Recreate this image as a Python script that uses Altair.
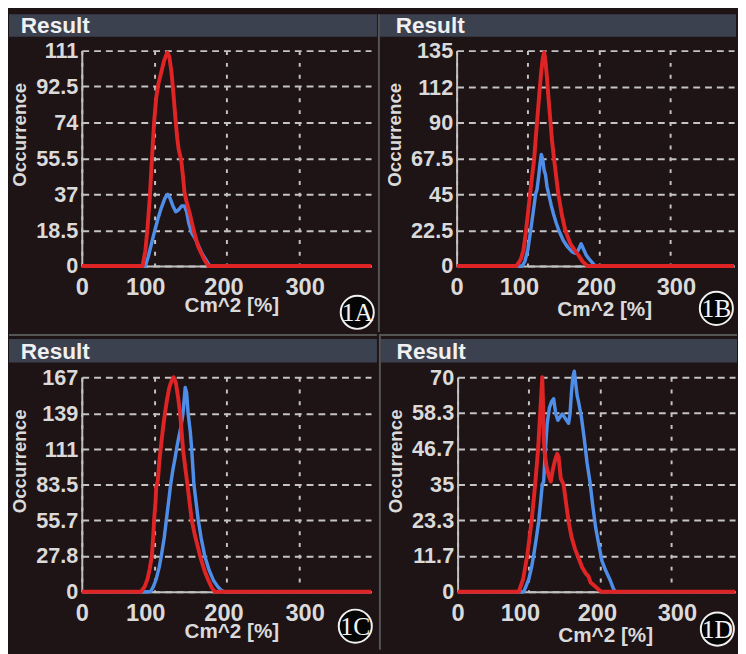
import altair as alt
import pandas as pd

# ---------------- data ----------------
# Panel 1A
a_red_x = [0, 84, 88, 91, 94, 97, 100, 103, 106, 110, 114, 118, 121, 124, 126, 128, 130, 132, 134, 136, 138, 140, 142, 145, 150, 155, 161, 166, 170, 175, 400]
a_red_y = [0, 0, 8, 20, 35, 55, 74, 87, 94, 100, 106, 110, 108, 100, 92, 83, 74, 66, 60, 57, 53, 46, 38, 33, 26, 18, 10, 6, 3, 0, 0]
a_blue_x = [0, 88, 92, 96, 100, 105, 110, 115, 119, 122, 126, 130, 134, 138, 142, 145, 148, 152, 157, 162, 167, 172, 177, 400]
a_blue_y = [0, 0, 5, 11, 17, 24, 30, 35, 37, 35, 31, 28, 29, 31, 31, 28, 22, 17, 14, 10, 6, 3, 0, 0]
a_yticks = [0, 18.5, 37, 55.5, 74, 92.5, 111]

# Panel 1B
b_red_x = [0, 84, 90, 94, 97, 100, 103, 106, 109, 111, 113, 115, 117, 119, 121, 123, 125, 127, 129, 132, 134, 137, 140, 143, 148, 153, 160, 166, 171, 177, 184, 390]
b_red_y = [0, 0, 4, 10, 20, 32, 44, 56, 67, 79, 90, 101, 112, 122, 130, 134, 128, 118, 106, 90, 79, 67, 56, 45, 32, 22, 14, 10, 7, 3, 0, 0]
b_blue_x = [0, 92, 96, 100, 104, 108, 111, 113, 115, 117, 119, 121, 123, 125, 127, 130, 133, 136, 140, 144, 150, 156, 162, 167, 171, 175, 178, 182, 187, 191, 195, 390]
b_blue_y = [0, 0, 3, 10, 22, 35, 45, 48, 55, 63, 70, 67, 60, 57, 50, 44, 38, 33, 27, 22, 16, 12, 9, 8, 10, 14, 11, 7, 4, 2, 0, 0]
b_yticks = [0, 22.5, 45, 67.5, 90, 112, 135]

# Panel 1C
c_red_x = [0, 82, 87, 91, 94, 97, 99, 100, 102, 103, 105, 106, 107, 109, 112, 115, 118, 121, 124, 127, 130, 133, 136, 138, 140, 143, 146, 149, 152, 156, 160, 164, 170, 175, 180, 184, 400]
c_red_y = [0, 0, 4, 10, 18, 28, 45, 56, 70, 82, 86, 92, 100, 111, 126, 139, 150, 159, 164, 167, 163, 152, 139, 125, 111, 97, 84, 70, 56, 45, 36, 27, 16, 9, 3, 0, 0]
c_blue_x = [0, 95, 99, 103, 107, 110, 114, 117, 120, 123, 126, 129, 131, 134, 137, 140, 142, 143, 145, 147, 150, 152, 155, 158, 161, 165, 170, 176, 182, 188, 193, 197, 400]
c_blue_y = [0, 0, 4, 10, 19, 28, 42, 56, 70, 84, 95, 104, 111, 120, 128, 139, 152, 159, 155, 139, 125, 111, 84, 70, 56, 42, 28, 17, 9, 4, 1, 0, 0]
c_yticks = [0, 27.8, 55.7, 83.5, 111, 139, 167]

# Panel 1D
d_red_x = [0, 86, 92, 98, 104, 109, 113, 116, 118, 119, 120, 121, 122, 125, 128, 131, 134, 137, 140, 142, 145, 149, 153, 156, 160, 165, 170, 175, 180, 184, 187, 192, 197, 202, 390]
d_red_y = [0, 0, 4, 12, 23, 35, 46, 58, 66, 70, 62, 52, 46, 41, 38, 36, 40, 43, 45, 44, 37, 35, 28, 23, 18, 14, 11, 8, 6, 5, 3, 2, 1, 0, 0]
d_blue_x = [0, 93, 100, 104, 107, 111, 114, 117, 119, 121, 123, 126, 129, 132, 135, 138, 141, 144, 147, 150, 153, 156, 158, 160, 162, 164, 166, 168, 170, 174, 178, 182, 186, 190, 194, 198, 203, 208, 214, 219, 222, 390]
d_blue_y = [0, 0, 4, 8, 12, 18, 23, 30, 35, 36, 45, 55, 60, 62, 63, 58, 56, 57, 58, 57, 56, 55, 58, 65, 70, 72, 68, 64, 62, 57, 50, 42, 36, 28, 21, 16, 10, 7, 4, 1, 0, 0]
d_yticks = [0, 11.7, 23.3, 35, 46.7, 58.3, 70]

x_ticks = [0, 100, 200, 300]
panel_labels = ["1A", "1B", "1C", "1D"]
header_text = "Result"
x_title = "Cm^2 [%]"
y_title = "Occurrence"

# ---------------- style ----------------
BG = "#1e1315"
HEADER = "#3c4150"
DIVIDER = "#555555"
GRID = "#c4c4c4"
AXIS = "#c0c0c0"
TEXT = "#dadada"
RED = "#de2424"
BLUE = "#4f8ee8"
FONT = "Liberation Sans"

one = pd.DataFrame({"k": [0]})


def make_panel(red_x, red_y, blue_x, blue_y, yticks, xmax, W, H, top, bottom,
               left, right, hdr_top, hdr_bot, label, cx, cy, xt_y, xt_x,
               vdiv=False, hdiv=False):
    df_r = pd.DataFrame({"x": red_x, "y": red_y, "i": list(range(len(red_x)))})
    df_b = pd.DataFrame({"x": blue_x, "y": blue_y, "i": list(range(len(blue_x)))})
    xscale = alt.Scale(domain=[0, xmax], nice=False, zero=False)
    yscale = alt.Scale(domain=[0, yticks[-1]], nice=False, zero=False)
    xaxis = alt.Axis(
        values=x_ticks, grid=True, gridDash=[4, 8], gridColor=GRID, gridWidth=2,
        domainColor=AXIS, domainWidth=2, ticks=False, tickSize=0,
        labelFont=FONT, labelFontSize=24, labelFontWeight="bold", labelColor=TEXT,
        labelBaseline="middle", labelPadding=22, labelFlush=False,
        labelAlign="center",
        labelOffset={"condition": [
            {"test": "datum.value == 100", "value": -9},
            {"test": "datum.value == 200", "value": -3},
            {"test": "datum.value == 300", "value": 6}], "value": 0},
        title=x_title, titleFont=FONT, titleFontSize=21, titleFontWeight="bold",
        titleColor=TEXT, titleX=xt_x, titleY=xt_y, titleBaseline="middle",
        titleAlign="center",
    )
    yaxis = alt.Axis(
        values=yticks, format=".4~g", grid=True, gridDash=[7, 5], gridColor=GRID,
        gridWidth=2, domainColor=AXIS, domainWidth=2, ticks=False, tickSize=0,
        labelFont=FONT, labelFontSize=22, labelFontWeight="bold", labelColor=TEXT,
        labelPadding=4, labelFlush=False, labelBaseline="middle",
        title=y_title, titleFont=FONT, titleFontSize=19, titleFontWeight="bold",
        titleColor=TEXT, titleX=-63, titleY=85, titleAngle=270,
        titleBaseline="middle", titleAlign="center",
    )
    enc = dict(
        x=alt.X("x:Q", scale=xscale, axis=xaxis),
        y=alt.Y("y:Q", scale=yscale, axis=yaxis),
        order=alt.Order("i:Q"),
    )
    layers = []
    layers.append(alt.Chart(one).mark_rect(fill=BG, fillOpacity=0, strokeOpacity=0).encode(
        x=alt.value(left), x2=alt.value(W + right), y=alt.value(top), y2=alt.value(H + bottom)))
    layers.append(alt.Chart(one).mark_rect(fill=HEADER).encode(
        x=alt.value(left + (2 if vdiv else 0)), x2=alt.value(W + right),
        y=alt.value(hdr_top), y2=alt.value(hdr_bot)))
    layers.append(alt.Chart(one).mark_text(
        text=header_text, font=FONT, fontSize=23, fontWeight="bold", color="#f0f0f0",
        align="left", baseline="middle").encode(
        x=alt.value(-62), y=alt.value((hdr_top + hdr_bot) / 2 + 1)))
    if vdiv:
        layers.append(alt.Chart(one).mark_rule(color=DIVIDER, strokeWidth=2).encode(
            x=alt.value(left + 1), y=alt.value(top), y2=alt.value(H + bottom)))
    if hdiv:
        layers.append(alt.Chart(one).mark_rule(color=DIVIDER, strokeWidth=2).encode(
            x=alt.value(left), x2=alt.value(W + right), y=alt.value(top + 1)))
    layers.append(alt.Chart(df_b).mark_line(color=BLUE, strokeWidth=3.5,
                                            strokeJoin="round").encode(**enc))
    layers.append(alt.Chart(df_r).mark_line(color=RED, strokeWidth=4,
                                            strokeJoin="round").encode(**enc))
    layers.append(alt.Chart(one).mark_point(
        shape="circle", size=1130, filled=True, fill="#050505", stroke="#f0f0f0",
        strokeWidth=2, opacity=1).encode(x=alt.value(cx), y=alt.value(H + cy)))
    layers.append(alt.Chart(one).mark_text(
        text=label, font="Liberation Serif", fontSize=26, color="#f4f4f4",
        align="center", baseline="middle").encode(
        x=alt.value(cx), y=alt.value(H + cy + 1)))
    return alt.layer(*layers).properties(width=W, height=H)


W1, W2 = 294, 282
H1, H2 = 219, 218

pA = make_panel(a_red_x, a_red_y, a_blue_x, a_blue_y, a_yticks, 400, W1, H1,
                -37, 67, -74, 6, -37, -14, panel_labels[0], 280, 47, 40, 152)
pB = make_panel(b_red_x, b_red_y, b_blue_x, b_blue_y, b_yticks, 390, W2, H1,
                -37, 67, -80, 2, -37, -14, panel_labels[1], 264, 43, 44, 150,
                vdiv=True)
pC = make_panel(c_red_x, c_red_y, c_blue_x, c_blue_y, c_yticks, 400, W1, H2,
                -44, 59, -74, 6, -39, -15, panel_labels[2], 278, 35, 41, 152,
                hdiv=True)
pD = make_panel(d_red_x, d_red_y, d_blue_x, d_blue_y, d_yticks, 390, W2, H2,
                -44, 59, -80, 2, -39, -15, panel_labels[3], 264, 38, 45, 150,
                vdiv=True, hdiv=True)

row1 = alt.hconcat(pA, pB, spacing=0)
row2 = alt.hconcat(pC, pD, spacing=0)
chart = alt.vconcat(row1, row2, spacing=0).properties(
    background=BG, padding=0
).configure_view(strokeWidth=0)

chart.save("out.html", embed_options={"renderer": "svg", "actions": False})
